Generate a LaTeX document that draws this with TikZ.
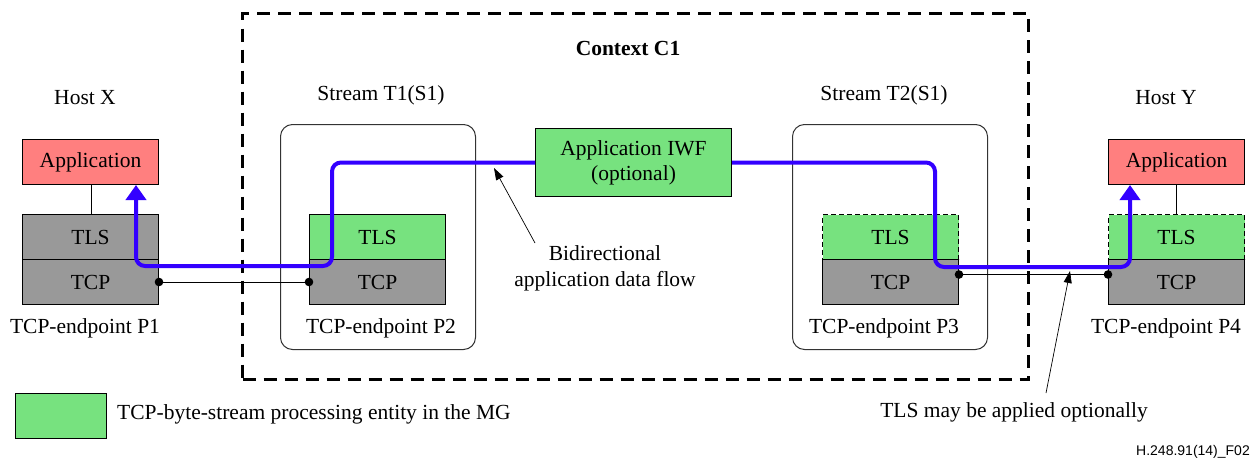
\documentclass[tikz,border=0pt]{standalone}
\usepackage{fontspec}
\setmainfont{Liberation Serif}
\setsansfont{Liberation Sans}
\usetikzlibrary{arrows.meta}
\definecolor{appred}{HTML}{FF7F7F}
\definecolor{mggreen}{HTML}{77E27F}
\definecolor{tcpgray}{HTML}{999999}
\definecolor{flowblue}{HTML}{3300FF}
\begin{document}
\begin{tikzpicture}[x=1pt,y=-1pt,
  every node/.style={font=\rmfamily\fontsize{21.5}{25}\selectfont},
  layer/.style={draw=black,line width=1pt,inner sep=0pt,anchor=north west,minimum width=136pt,minimum height=45pt},
  appbox/.style={layer,fill=appred},
  greenbox/.style={layer,fill=mggreen},
  optbox/.style={layer,fill=mggreen,dashed,dash pattern=on 5pt off 3pt},
  tcpbox/.style={layer,fill=tcpgray},
  streambox/.style={draw=black!80,line width=1pt,rounded corners=12pt,inner sep=0pt,anchor=north west,minimum width=195pt,minimum height=225pt},
  flow/.style={draw=flowblue,line width=4pt,rounded corners=9pt},
  link/.style={draw=black,line width=1pt},
  note/.style={draw=black,line width=0.7pt,-{Triangle[length=12pt,width=8pt]}},
  lbl/.style={inner sep=0pt}
]
\useasboundingbox (0,0) rectangle (1257,463);

% context box
\node[draw=black,line width=3pt,dash pattern=on 13pt off 8pt,inner sep=0pt,anchor=north west,minimum width=786pt,minimum height=366pt] (ctx) at (241,12) {};
\node[lbl,font=\rmfamily\fontsize{21.5}{25}\selectfont\bfseries] (ctxlbl) at (628,48) {Context C1};

% stream boxes
\node[streambox] (s1) at (280,124) {};
\node[streambox] (s2) at (792,124) {};
\node[lbl] (s1lbl) at (381,95) {Stream T1(S1)};
\node[lbl] (s2lbl) at (884,95) {Stream T2(S1)};

% host labels
\node[lbl] (hx) at (85,98) {Host X};
\node[lbl] (hy) at (1166,98) {Host Y};

% Host X stack
\node[appbox] (appX) at (22,139) {Application};
\node[tcpbox] (tlsX) at (22,214) {TLS};
\node[tcpbox] (tcpX) at (22,259) {TCP};
\draw[link] (appX.south -| 91,0) -- (tlsX.north -| 91,0);

% P2 stack
\node[greenbox] (tls2) at (309,214) {TLS};
\node[tcpbox] (tcp2) at (309,259) {TCP};

% P3 stack
\node[optbox] (tls3) at (822,214) {TLS};
\node[tcpbox] (tcp3) at (822,259) {TCP};

% Host Y stack
\node[appbox] (appY) at (1108,139) {Application};
\node[optbox] (tlsY) at (1108,214) {TLS};
\node[tcpbox] (tcpY) at (1108,259) {TCP};
\draw[link] (appY.south -| 1176,0) -- (tlsY.north -| 1176,0);

% IWF
\node[greenbox,minimum width=196pt,minimum height=68pt,align=center] (iwf) at (535,128) {Application IWF\\(optional)};

% endpoint labels
\node[lbl] (p1) at (85,328) {TCP-endpoint P1};
\node[lbl] (p2) at (381,328) {TCP-endpoint P2};
\node[lbl] (p3) at (884,328) {TCP-endpoint P3};
\node[lbl] (p4) at (1166,328) {TCP-endpoint P4};

% TCP connections
\draw[link] (tcpX.east) -- (tcp2.west);
\fill (tcpX.east) circle (4.3pt) (tcp2.west) circle (4.3pt);
\draw[link] ([yshift=7.5pt]tcp3.east) -- ([yshift=7.5pt]tcpY.west);
\fill ([yshift=7.5pt]tcp3.east) circle (4.3pt) ([yshift=7.5pt]tcpY.west) circle (4.3pt);

% blue flow
\coordinate (c1) at (332,266);
\coordinate (c2) at (136,266);
\coordinate (c3) at (935,267);
\coordinate (c4) at (1130,267);
\draw[flow,-{Triangle[length=15pt,width=20pt]}] (iwf.west) -| (c1) -- (c2) -- (appX.south -| c2);
\draw[flow,-{Triangle[length=15pt,width=20pt]}] (iwf.east) -| (c3) -- (c4) -- (appY.south -| c4);

% annotations
\node[lbl,align=center,font=\rmfamily\fontsize{21.5}{26}\selectfont] (bid) at (605,268) {Bidirectional\\application data flow};
\coordinate (bidtail) at (535,243);
\coordinate (bidtip) at (494,168);
\draw[note] (bidtail) -- (bidtip);

\node[lbl] (tlsopt) at (1014,412) {TLS may be applied optionally};
\coordinate (opttail) at (1046,393);
\coordinate (opttip) at (1070,271);
\draw[note] (opttail) -- (opttip);

% legend
\node[greenbox,minimum width=91pt,minimum height=45pt] (leg) at (15,393) {};
\node[lbl,anchor=west] (legtxt) at (117,414) {TCP-byte-stream processing entity in the MG};

\node[lbl,anchor=east,font=\sffamily\fontsize{14}{16}\selectfont] (fig) at (1250,452) {H.248.91(14)\_F02};
\end{tikzpicture}
\end{document}
